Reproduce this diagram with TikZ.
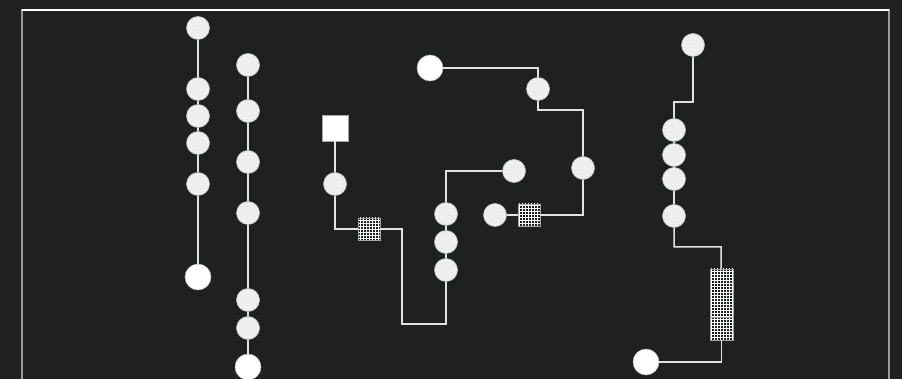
\documentclass[tikz,border=0pt]{standalone}
\usetikzlibrary{patterns}
\definecolor{bg}{HTML}{1F2020}
\definecolor{ln}{HTML}{E2E2E2}
\definecolor{dotfill}{HTML}{F2F2F2}
\begin{document}
\begin{tikzpicture}[x=1pt,y=-1pt,
  sm/.style={circle,draw=gray!50,line width=0.6pt,preaction={fill=dotfill},pattern=crosshatch dots,pattern color=gray!25,minimum size=23pt,inner sep=0pt},
  bigw/.style={circle,fill=white,draw=gray!50,line width=0.5pt,minimum size=26pt,inner sep=0pt},
  sqw/.style={rectangle,fill=white,draw=gray!70,line width=0.8pt,minimum size=26pt,inner sep=0pt},
  hb/.style={rectangle,draw=gray!70,line width=0.6pt,preaction={fill=bg},pattern=grid,pattern color=white,minimum width=22pt,minimum height=22pt,inner sep=0pt},
  wire/.style={draw=ln,line width=1.5pt}]
\fill[bg] (0,0) rectangle (902,379);
\useasboundingbox (0,0) rectangle (902,379);
\draw[draw=gray!80,line width=1.2pt] (22,10) rectangle (889,390);
\draw[white,line width=1.2pt] (22,10) -- (889,10);
% column A
\node[sm] (a0) at (198,28) {};
\node[sm] (a1) at (198,89) {};
\node[sm] (a2) at (198,116) {};
\node[sm] (a3) at (198,143) {};
\node[sm] (a4) at (198,184) {};
\node[bigw] (a5) at (198,277) {};
% column B
\node[sm] (b0) at (248,65) {};
\node[sm] (b1) at (248,111) {};
\node[sm] (b2) at (248,162) {};
\node[sm] (b3) at (248,213) {};
\node[sm] (b4) at (248,300) {};
\node[sm] (b5) at (248,328) {};
\node[bigw] (b6) at (248,367) {};
% middle left
\node[sqw] (sq) at (335,128) {};
\node[sm] (c1) at (335,184) {};
\node[hb] (h1) at (369,229) {};
\coordinate (k1) at (402,324);
\node[sm] (m3) at (446,270) {};
\node[sm] (m2) at (446,242) {};
\node[sm] (m1) at (446,214) {};
\node[sm] (r1) at (514,171) {};
% top middle
\node[bigw] (w1) at (430,68) {};
\node[sm] (t1) at (538,89) {};
\coordinate (k2) at (583,110);
\node[sm] (t2) at (583,168) {};
\node[hb] (h2) at (529,215) {};
\node[sm] (t3) at (495,215) {};
% right
\node[sm] (r0) at (693,45) {};
\coordinate (k3) at (674,102);
\node[sm] (ra) at (674,130) {};
\node[sm] (rb) at (674,155) {};
\node[sm] (rc) at (674,179) {};
\node[sm] (rd) at (674,216) {};
\coordinate (k4) at (721,247);
\node[hb,minimum height=48pt,minimum width=23pt] (h3) at (721.5,293) {};
\node[hb,minimum height=23pt,minimum width=23pt] (h4) at (721.5,328.5) {};
\node[bigw] (w2) at (646,362) {};
% wires
\draw[wire] (a0) -- (a1) (a1) -- (a2) (a2) -- (a3) (a3) -- (a4) (a4) -- (a5);
\draw[wire] (b0) -- (b1) (b1) -- (b2) (b2) -- (b3) (b3) -- (b4) (b4) -- (b5) (b5) -- (b6);
\draw[wire] (sq) -- (c1);
\draw[wire] (c1) |- (h1);
\draw[wire] (h1.east) -| (k1) -| (m3);
\draw[wire] (m3) -- (m2) (m2) -- (m1);
\draw[wire] (m1) |- (r1);
\draw[wire] (w1) -| (t1);
\draw[wire] (t1) |- (k2) -- (t2);
\draw[wire] (t2) |- (h2);
\draw[wire] (h2) -- (t3);
\draw[wire] (r0) |- (k3) -- (ra);
\draw[wire] (ra) -- (rb) (rb) -- (rc) (rc) -- (rd);
\draw[wire] (rd) |- (k4) -- (h3);
\draw[wire] (h4) |- (w2);
\end{tikzpicture}
\end{document}
